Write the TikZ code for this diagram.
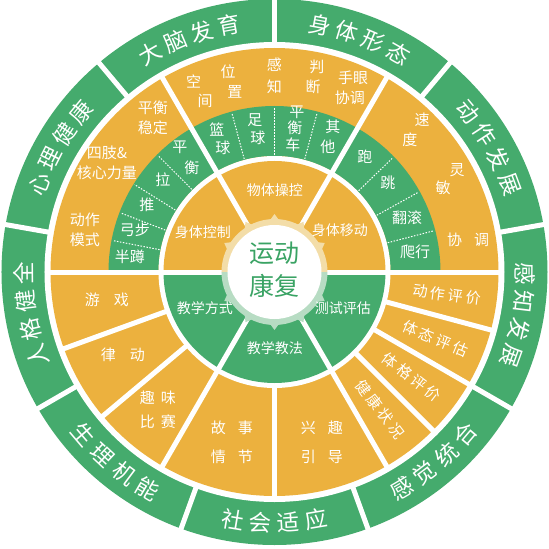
\documentclass[tikz,border=0pt]{standalone}
\usepackage{fontspec}
\setmainfont{Noto Sans CJK SC}
\definecolor{og}{HTML}{ECB13E}
\definecolor{gr}{HTML}{45AB6D}
\definecolor{halot}{HTML}{F3DDA8}
\definecolor{halog}{HTML}{B7DCC3}
\definecolor{ctr}{HTML}{3AA364}
\newcommand\ringsec[5]{\fill[#1] (#2:#4pt) arc[start angle=#2,end angle=#3,radius=#4pt] -- (#3:#5pt) arc[start angle=#3,end angle=#2,radius=#5pt] -- cycle;}
\newcommand\toparc[2]{\foreach \ch [count=\i] in {#2} {\pgfmathsetmacro\ang{#1+(2.5-\i)*6.4}\pgfmathsetmacro\rot{\ang-90}\node[otxt,rotate=\rot] (oa#1-\i) at (\ang:251pt) {\ch};}}
\newcommand\botarc[2]{\foreach \ch [count=\i] in {#2} {\pgfmathsetmacro\ang{#1+(\i-2.5)*6.4}\pgfmathsetmacro\rot{\ang+90}\node[otxt,rotate=\rot] (ob#1-\i) at (\ang:251pt) {\ch};}}
\begin{document}
\begin{tikzpicture}[x=1pt,y=1pt,
 otxt/.style={text=white,font=\fontsize{22.5}{24}\selectfont,inner sep=0pt},
 tt/.style={text=white,font=\fontsize{15}{20}\selectfont,inner sep=0pt,align=center},
 it/.style={text=white,font=\fontsize{14}{16}\selectfont,inner sep=0pt},
 ct/.style={text=ctr,font=\fontsize{25}{30}\selectfont,inner sep=0pt},
 divl/.style={white,line width=5pt},
 dotl/.style={white,line width=1pt,dash pattern=on 1.5pt off 1.5pt}]
\useasboundingbox (-274.5,-277) rectangle (274.5,272);
\fill[gr] (0,0) circle[radius=273pt];
\fill[white] (0,0) circle[radius=230pt];
\fill[og] (0,0) circle[radius=224pt];
\ringsec{gr}{0}{180}{166}{116}
\fill[white] (0,0) circle[radius=116pt];
\fill[og] (0:111pt) arc[start angle=0,end angle=180,radius=111pt] -- cycle;
\fill[gr] (180:111pt) arc[start angle=180,end angle=360,radius=111pt] -- cycle;
% dividers
\foreach \a in {10,50,...,330} \draw[divl] (\a:227pt) -- (\a:276pt);
\foreach \a in {0,60,...,300} \draw[divl] (0,0) -- (\a:226pt);
\foreach \a in {200,220,270,315,330,345} \draw[divl] (\a:112pt) -- (\a:226pt);
\foreach \a in {135,148,159,169,105,90,75,44,29,14.5} \draw[dotl] (\a:117pt) -- (\a:165pt);
% halo
\fill[halot] (0:53pt) arc[start angle=0,end angle=180,radius=53pt] -- cycle;
\fill[halog] (180:53pt) arc[start angle=180,end angle=360,radius=53pt] -- cycle;
\foreach \a in {30,60,...,150} \fill[halot,rotate=\a] (-5:52pt) -- (0:58pt) -- (5:52pt) -- cycle;
\foreach \a in {210,240,...,330} \fill[halog,rotate=\a] (-5:52pt) -- (0:58pt) -- (5:52pt) -- cycle;
\fill[white] (0,0) circle[radius=47pt];
\node[ct] (c1) at (0,19) {运动};
\node[ct] (c2) at (0,-14) {康复};
% outer ring
\toparc{110}{大,脑,发,育}
\toparc{70}{身,体,形,态}
\toparc{30}{动,作,发,展}
\toparc{350}{感,知,发,展}
\toparc{190}{人,格,健,全}
\toparc{150}{心,理,健,康}
\botarc{270}{社,会,适,应}
\botarc{310}{感,觉,统,合}
\botarc{230}{生,理,机,能}
% upper-left orange
\node[tt] (a1) at (-121.5,154) {平衡\\稳定};
\node[tt] (a2) at (-167.5,109) {四肢\&\\核心力量};
\node[tt] (a3) at (-189.5,42) {动作\\模式};
% top orange
\node[tt] (b1) at (113:207pt) {空};
\node[tt] (b2) at (112:185pt) {间};
\node[tt] (b3) at (103:206pt) {位};
\node[tt] (b4) at (102.4:184pt) {置};
\node[tt] (b5) at (90:207pt) {感};
\node[tt] (b6) at (90:185pt) {知};
\node[tt] (b7) at (78.3:209pt) {判};
\node[tt] (b8) at (78.2:189pt) {断};
\node[tt] (b9) at (78.5,194) {手眼};
\node[tt] (b10) at (75.5,174) {协调};
% upper-right orange
\node[tt] (d1) at (147.5,152) {速};
\node[tt] (d2) at (135.5,132) {度};
\node[tt] (d3) at (182.5,102) {灵};
\node[tt] (d4) at (168.5,84) {敏};
\node[tt] (d5) at (193.5,32) {协\hspace{12pt}调};
% upper-left green
\node[tt] (e1) at (-94.5,125) {平};
\node[tt] (e2) at (-82.5,104) {衡};
\node[tt] (e3) at (-111.5,92) {拉};
\node[tt] (e4) at (-127.5,67) {推};
\node[tt] (e5) at (-139.5,42) {弓步};
\node[tt] (e6) at (-144.5,15) {半蹲};
% top green
\node[tt] (f1) at (-57.5,142) {篮};
\node[tt] (f2) at (-51.5,124) {球};
\node[tt] (f3) at (-19.5,152) {足};
\node[tt] (f4) at (-16.5,134) {球};
\node[tt] (f5) at (22.5,160) {平};
\node[tt] (f6) at (20.5,144) {衡};
\node[tt] (f7) at (18.5,127) {车};
\node[tt] (f8) at (58.5,145) {其};
\node[tt] (f9) at (53.5,125) {他};
% upper-right green
\node[tt] (g1) at (90.5,115) {跑};
\node[tt] (g2) at (113.5,89) {跳};
\node[tt] (g3) at (132.5,54) {翻滚};
\node[tt] (g4) at (140.5,20) {爬行};
% inner ring
\node[it] (h1) at (0.5,82) {物体操控};
\node[it] (h2) at (65.5,42) {身体移动};
\node[it] (h3) at (-71.5,40) {身体控制};
\node[it] (h4) at (-69.5,-36) {教学方式};
\node[it] (h5) at (68.5,-36) {测试评估};
\node[it] (h6) at (0.5,-76) {教学教法};
% lower-left
\node[tt] (k1) at (-167.5,-28) {游\hspace{14pt}戏};
\node[tt] (k2) at (-151.5,-83) {律\hspace{14pt}动};
\node[tt,font=\fontsize{15}{24}\selectfont] (k3) at (-116.5,-138) {趣\hspace{6pt}味\\比\hspace{6pt}赛};
% bottom
\node[tt,font=\fontsize{15}{29}\selectfont] (m1) at (-42.5,-170) {故\hspace{12pt}事\\情\hspace{12pt}节};
\node[tt,font=\fontsize{15}{29}\selectfont] (m2) at (47.5,-170) {兴\hspace{12pt}趣\\引\hspace{12pt}导};
% lower-right
\node[tt,rotate=-7.5] (p1) at (-7.5:174pt) {动\hspace{3pt}作\hspace{3pt}评\hspace{3pt}价};
\node[tt,rotate=-22.5] (p2) at (-22.5:174pt) {体\hspace{3pt}态\hspace{3pt}评\hspace{3pt}估};
\node[tt,rotate=-37.5] (p3) at (-37.5:173pt) {体\hspace{3pt}格\hspace{3pt}评\hspace{3pt}价};
\node[tt,rotate=-52.5] (p4) at (-52.5:173pt) {健\hspace{3pt}康\hspace{3pt}状\hspace{3pt}况};
\end{tikzpicture}
\end{document}
